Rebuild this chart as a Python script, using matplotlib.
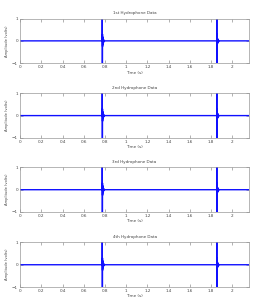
import matplotlib.pyplot as plt

# hydrophone traces (time in s, normalised amplitude)
titles = ["1st Hydrophone Data", "2nd Hydrophone Data",
          "3rd Hydrophone Data", "4th Hydrophone Data"]

t = [0.0, 0.774, 0.775, 0.776, 0.777, 0.778, 0.779, 0.781, 0.783,
     0.786, 0.789, 0.793, 0.800, 1.854, 1.855, 1.856, 1.857, 1.858,
     1.859, 1.861, 1.863, 1.866, 1.869, 1.873, 1.880, 2.16]
amp = [0.0, 0.0, 1.6, -1.6, 0.3, -0.25, 0.18, -0.14, 0.1,
       -0.08, 0.05, -0.03, 0.0, 0.0, 1.6, -1.6, 0.3, -0.25,
       0.18, -0.14, 0.1, -0.08, 0.05, -0.03, 0.0, 0.0]

xticks = [0, 0.2, 0.4, 0.6, 0.8, 1, 1.2, 1.4, 1.6, 1.8, 2]
xticklabels = ["0", "0.2", "0.4", "0.6", "0.8", "1", "1.2", "1.4", "1.6", "1.8", "2"]
yticks = [-1, 0, 1]

fig = plt.figure(figsize=(2.79, 3.05), dpi=100)
bottoms = [0.793, 0.548, 0.305, 0.059]
fs = 3
txt = "#444444"

for title, b in zip(titles, bottoms):
    ax = fig.add_axes([0.072, b, 0.821, 0.146])
    ax.plot(t, amp, color="#1010ff", lw=1.0)
    ax.set_xlim(0, 2.16)
    ax.set_ylim(-1, 1)
    ax.set_xticks(xticks)
    ax.set_xticklabels(xticklabels)
    ax.set_yticks(yticks)
    ax.tick_params(direction="in", length=2, width=0.4, labelsize=fs,
                   pad=1.5, top=True, right=True, colors="#777777",
                   labelcolor=txt)
    for s in ax.spines.values():
        s.set_linewidth(0.5)
        s.set_color("#999999")
    ax.set_title(title, fontsize=fs, pad=3, color=txt)
    ax.set_xlabel("Time (s)", fontsize=fs, labelpad=1, color=txt)
    ax.set_ylabel("Amplitude (volts)", fontsize=2.6, labelpad=2, color=txt)

fig.savefig("out.png", dpi=100)
